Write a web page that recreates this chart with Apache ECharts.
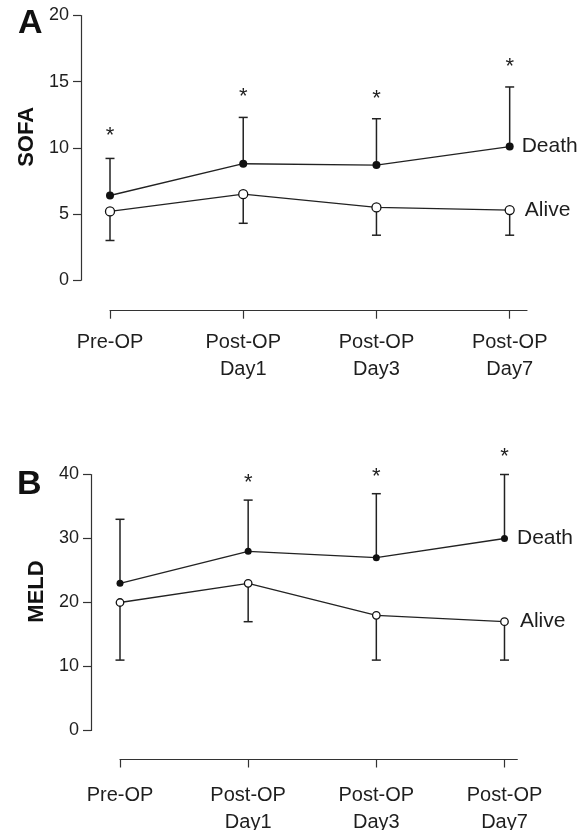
<!DOCTYPE html>
<html><head><meta charset="utf-8">
<script src="https://cdn.jsdelivr.net/npm/echarts@6/dist/echarts.min.js"></script>
<style>html,body{margin:0;padding:0;background:#fff}#c{width:588px;height:830px}</style>
</head><body><div id="c"></div>
<script>
const categories = ['Pre-OP', 'Post-OP\nDay1', 'Post-OP\nDay3', 'Post-OP\nDay7'];
const catIndex = [0, 1, 2, 3];

const sofaDeath = [6.4, 8.8, 8.7, 10.1];
const sofaDeathUpper = [9.2, 12.3, 12.2, 14.6];
const sofaAlive = [5.2, 6.5, 5.5, 5.3];
const sofaAliveLower = [3.0, 4.3, 3.4, 3.4];
const sofaStars = [11.3, 14.2, 14.1, 16.5];
const sofaTicks = [0, 5, 10, 15, 20];

const meldDeath = [23, 28, 27, 30];
const meldDeathUpper = [33, 36, 37, 40];
const meldAlive = [20, 23, 18, 17];
const meldAliveLower = [11, 17, 11, 11];
const meldStars = [null, 39.4, 40.4, 43.6];
const meldTicks = [0, 10, 20, 30, 40];

const FONT = "'Liberation Sans', Arial, Helvetica, sans-serif";
const INK = '#1e1e1e';

function xAxisCfg(g, max, offset, margin) {
  return {
    type: 'value', gridIndex: g, min: 0, max: max, interval: 1, offset: offset, position: 'bottom',
    axisLine: {show: true, onZero: false, lineStyle: {color: '#333', width: 1.2}},
    axisTick: {show: true, length: 8, customValues: catIndex, lineStyle: {color: '#333', width: 1.2}},
    axisLabel: {customValues: catIndex, formatter: v => categories[Math.round(v)], fontSize: 20, lineHeight: 27,
      color: INK, margin: margin, fontFamily: FONT},
    splitLine: {show: false}
  };
}
function yAxisCfg(g, ticks, name) {
  return {
    type: 'value', gridIndex: g, min: ticks[0], max: ticks[ticks.length - 1], interval: ticks[1] - ticks[0],
    offset: 29, position: 'left',
    axisLine: {show: true, onZero: false, lineStyle: {color: '#333', width: 1.2}},
    axisTick: {show: true, length: 8, lineStyle: {color: '#333', width: 1.2}},
    axisLabel: {fontSize: 18, margin: 12, color: INK, fontFamily: FONT},
    splitLine: {show: false},
    name: name, nameLocation: 'middle', nameGap: 42,
    nameTextStyle: {fontSize: 22, fontWeight: 'bold', color: '#111', fontFamily: FONT, padding: [0, 0, 0, 22]}
  };
}
function errorBars(g, means, bounds) {
  return {
    type: 'custom', xAxisIndex: g, yAxisIndex: g, z: 1, clip: false, silent: true,
    data: means.map((m, i) => [catIndex[i], m, bounds[i]]),
    encode: {x: 0, y: [1, 2]},
    renderItem: (params, api) => {
      const p0 = api.coord([api.value(0), api.value(1)]);
      const p1 = api.coord([api.value(0), api.value(2)]);
      const hw = 4.5;
      return {type: 'group', children: [
        {type: 'line', shape: {x1: p0[0], y1: p0[1], x2: p1[0], y2: p1[1]}, style: {stroke: '#222', lineWidth: 1.5}},
        {type: 'line', shape: {x1: p1[0] - hw, y1: p1[1], x2: p1[0] + hw, y2: p1[1]}, style: {stroke: '#222', lineWidth: 1.5}}
      ]};
    }
  };
}
function lineSeries(g, vals, name, filled, size, dist) {
  return {
    type: 'line', name: name, xAxisIndex: g, yAxisIndex: g, z: 3,
    data: vals.map((v, i) => i === vals.length - 1
      ? {value: [catIndex[i], v], label: {show: true, position: 'right', distance: dist, formatter: name,
          fontSize: 21, color: INK, fontFamily: FONT}}
      : [catIndex[i], v]),
    symbol: 'circle', symbolSize: size, showAllSymbol: true,
    lineStyle: {color: '#222', width: 1.3},
    itemStyle: {color: filled ? '#111' : '#fff', borderColor: '#111', borderWidth: filled ? 0 : 1.3},
    emphasis: {disabled: true}
  };
}
function stars(g, arr) {
  return {
    type: 'custom', xAxisIndex: g, yAxisIndex: g, z: 4, clip: false, silent: true,
    data: arr.map((s, i) => [catIndex[i], s]).filter(d => d[1] != null),
    encode: {x: 0, y: 1},
    renderItem: (params, api) => {
      const c = api.coord([api.value(0), api.value(1)]);
      return {type: 'text', x: c[0], y: c[1] + 5, style: {text: '*', fontSize: 22, fontFamily: FONT, fill: INK,
        align: 'center', verticalAlign: 'middle'}};
    }
  };
}

const chart = echarts.init(document.getElementById('c'), null, {renderer: 'canvas'});
chart.setOption({
  animation: false,
  backgroundColor: '#fff',
  title: [
    {text: 'A', left: 18, top: 7, padding: 0, textStyle: {fontSize: 34, fontWeight: 'bold', color: '#111', fontFamily: FONT}},
    {text: 'B', left: 17, top: 468, padding: 0, textStyle: {fontSize: 34, fontWeight: 'bold', color: '#111', fontFamily: FONT}}
  ],
  grid: [
    {left: 110, right: 61, top: 15.5, height: 264.7, outerBoundsMode: 'none'},
    {left: 120, right: 70.7, top: 474.5, height: 256, outerBoundsMode: 'none'}
  ],
  xAxis: [xAxisCfg(0, 3.13, 30.5, 18), xAxisCfg(1, 3.10, 29, 22)],
  yAxis: [yAxisCfg(0, sofaTicks, 'SOFA'), yAxisCfg(1, meldTicks, 'MELD')],
  series: [
    errorBars(0, sofaDeath, sofaDeathUpper),
    errorBars(0, sofaAlive, sofaAliveLower),
    lineSeries(0, sofaDeath, 'Death', true, 8, 8),
    lineSeries(0, sofaAlive, 'Alive', false, 9, 10),
    stars(0, sofaStars),
    errorBars(1, meldDeath, meldDeathUpper),
    errorBars(1, meldAlive, meldAliveLower),
    lineSeries(1, meldDeath, 'Death', true, 7, 9),
    lineSeries(1, meldAlive, 'Alive', false, 7.5, 11),
    stars(1, meldStars)
  ]
});
</script>
</body></html>
